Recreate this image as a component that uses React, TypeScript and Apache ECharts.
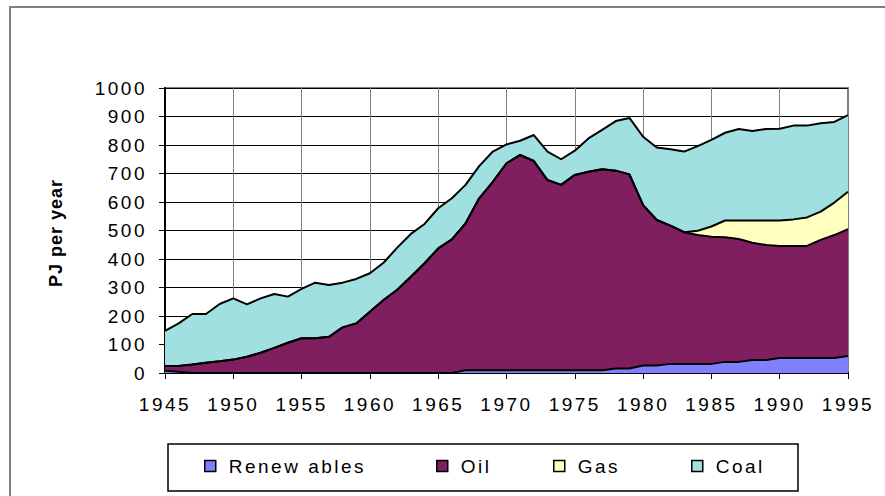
import React, { useEffect, useRef } from "react";
import * as echarts from "echarts";

const years: string[] = [];
for (let y = 1945; y <= 1995; y++) years.push(String(y));

const seriesNames = ["Renew ables", "Oil", "Gas", "Coal"];

const renewables = [
  8, 4, 0, 0, 0, 0, 0, 0, 0, 0,
  0, 0, 0, 0, 0, 0, 0, 0, 0, 0,
  0, 0, 10, 10, 10, 10, 10, 10, 10, 10,
  10, 10, 10, 16, 16, 26, 26, 32, 32, 32,
  32, 39, 39, 46, 46, 53, 53, 53, 53, 53,
  60,
];

const oil = [
  17, 21, 30, 36, 41, 47, 57, 71, 88, 106,
  122, 122, 127, 160, 174, 215, 256, 292, 338, 385,
  437, 469, 515, 603, 661, 726, 755, 734, 667, 650,
  685, 696, 705, 694, 681, 563, 511, 485, 462, 452,
  446, 437, 431, 411, 403, 393, 393, 393, 414, 431,
  445,
];

const gas = [
  0, 0, 0, 0, 0, 0, 0, 0, 0, 0,
  0, 0, 0, 0, 0, 0, 0, 0, 0, 0,
  0, 0, 0, 0, 0, 0, 0, 0, 0, 0,
  0, 0, 0, 0, 0, 0, 0, 0, 0, 15,
  36, 59, 65, 78, 86, 89, 93, 100, 99, 114,
  131,
];

const coal = [
  123, 149, 177, 171, 201, 215, 184, 191, 189, 162,
  173, 195, 182, 157, 156, 135, 131, 148, 150, 138,
  141, 144, 135, 113, 106, 66, 50, 91, 100, 90,
  85, 117, 138, 174, 198, 240, 254, 268, 283, 297,
  304, 308, 321, 314, 321, 322, 329, 322, 310, 283,
  269,
];

const colors = ["#8080FF", "#7F1F5F", "#FFFFC0", "#A0E0E0"];
const legendMarkerX = [204, 436, 553, 691];

const FONT = "'Liberation Sans', Arial, sans-serif";

export default function App() {
  const ref = useRef<HTMLDivElement>(null);
  useEffect(() => {
    if (!ref.current) return;
    const chart = echarts.init(ref.current, undefined, { renderer: "svg" });
    const values = [renewables, oil, gas, coal];
    chart.setOption({
      animation: false,
      backgroundColor: "#ffffff",
      textStyle: { fontFamily: FONT },
      grid: {
        left: 165,
        right: 37,
        top: 88,
        bottom: 123,
        show: true,
        borderColor: "#808080",
        borderWidth: 2,
        backgroundColor: "transparent",
      },
      xAxis: {
        type: "category",
        data: years,
        boundaryGap: false,
        axisLine: { lineStyle: { color: "#000", width: 2 } },
        axisTick: { interval: 4, length: 6, lineStyle: { color: "#000", width: 1 } },
        axisLabel: {
          interval: 4,
          margin: 22,
          fontSize: 19,
          color: "#000",
          fontFamily: FONT,
        },
        splitLine: { show: true, interval: 4, lineStyle: { color: "#808080", width: 1 } },
      },
      yAxis: {
        type: "value",
        min: 0,
        max: 1000,
        interval: 100,
        axisLine: { show: true, lineStyle: { color: "#000", width: 2 } },
        axisTick: { show: true, length: 6, lineStyle: { color: "#000", width: 1 } },
        axisLabel: {
          margin: 18,
          fontSize: 19,
          color: "#000",
          fontFamily: FONT,
          formatter: (v: number) => String(v),
        },
        splitLine: { show: true, lineStyle: { color: "#000", width: 1 } },
      },
      legend: seriesNames.map((n, i) => ({
        data: [n],
        left: legendMarkerX[i],
        top: 456,
        padding: 0,
        icon: "rect",
        itemWidth: 11,
        itemHeight: 11,
        itemStyle: { borderColor: "#000", borderWidth: 1.5 },
        textStyle: {
          fontSize: 19,
          color: "#000",
          fontFamily: FONT,
          padding: [0, 0, 0, 8],
          lineHeight: 20,
        },
        selectedMode: false,
      })),
      graphic: [
        {
          type: "rect",
          z: -10,
          shape: { x: 10, y: 7, width: 900, height: 520 },
          style: { fill: "none", stroke: "#808080", lineWidth: 2 },
        },
        {
          type: "rect",
          z: 1,
          shape: { x: 168, y: 444, width: 630, height: 47 },
          style: { fill: "#fff", stroke: "#000", lineWidth: 1.5 },
        },
        {
          type: "text",
          x: 56,
          y: 233,
          rotation: Math.PI / 2,
          style: {
            text: "PJ per year",
            fontSize: 18,
            fontWeight: "bold",
            fontFamily: FONT,
            fill: "#000",
            align: "center",
            verticalAlign: "middle",
          },
        },
      ],
      series: seriesNames.map((n, i) => ({
        name: n,
        type: "line",
        stack: "total",
        data: values[i],
        symbol: "none",
        color: colors[i],
        lineStyle: { color: "#000", width: 2 },
        areaStyle: { color: colors[i], opacity: 1 },
        itemStyle: { color: colors[i] },
      })),
    });
    const svg = ref.current.querySelector("svg");
    if (svg) {
      svg.querySelectorAll("text").forEach((t) => {
        if (t.textContent === "PJ per year") t.setAttribute("letter-spacing", "1");
        else t.setAttribute("letter-spacing", "2.5");
      });
    }
    return () => chart.dispose();
  }, []);
  return (
    <div
      ref={ref}
      style={{ position: "fixed", left: 0, top: 0, width: 885, height: 496, background: "#fff" }}
    />
  );
}
